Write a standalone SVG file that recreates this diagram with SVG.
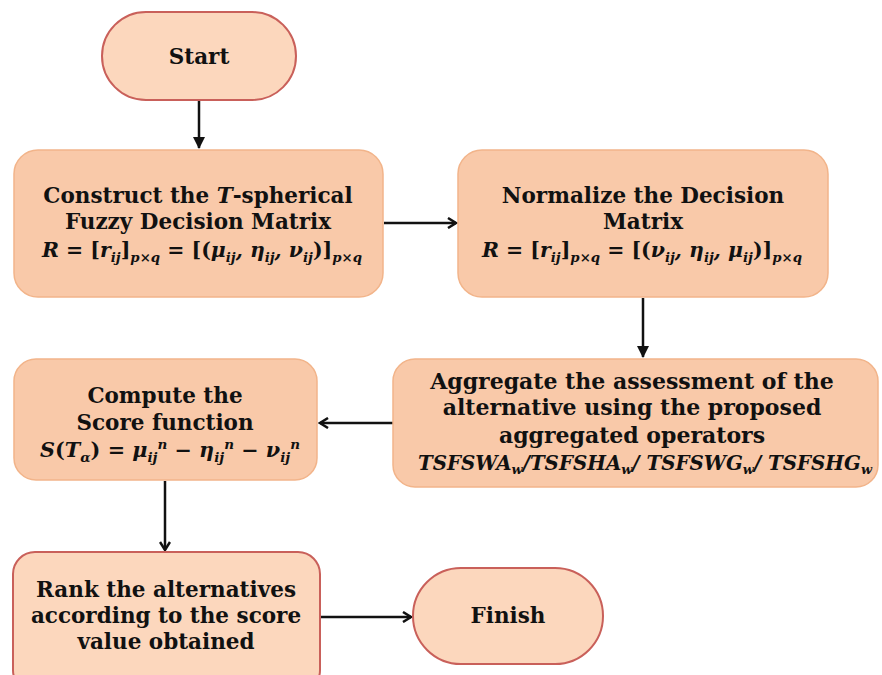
<svg xmlns="http://www.w3.org/2000/svg" width="882" height="675" viewBox="0 0 882 675">
<defs>
<style>
.box{fill:#F9C9A9;stroke:#F2B48A;stroke-width:1.5}
.term{fill:#FCD7BD;stroke:#C9605A;stroke-width:2}
.t{font-family:"DejaVu Serif",serif;font-weight:bold;font-size:21.5px;fill:#111;text-anchor:middle}
.m{font-family:"DejaVu Serif",serif;font-weight:bold;font-style:italic;font-size:20px;fill:#111;text-anchor:middle}
.up{font-style:normal}
.s{font-size:13px}
.c{stroke:#111;stroke-width:2.5;fill:none}
</style>
<marker id="chev" viewBox="0 0 12 12" refX="10" refY="6" markerWidth="12" markerHeight="12" markerUnits="userSpaceOnUse" orient="auto">
<path d="M2,1 L10,6 L2,11" fill="none" stroke="#111" stroke-width="2.5"/>
</marker>
<marker id="tri" viewBox="0 0 12 12" refX="11" refY="6" markerWidth="12" markerHeight="12" markerUnits="userSpaceOnUse" orient="auto">
<path d="M0,0 L12,6 L0,12 Z" fill="#111"/>
</marker>
</defs>
<rect width="882" height="675" fill="#fff"/>
<g id="connectors">
<line class="c" x1="199" y1="100" x2="199" y2="148" marker-end="url(#tri)"/>
<line class="c" x1="384" y1="223" x2="456" y2="223" marker-end="url(#chev)"/>
<line class="c" x1="643" y1="298" x2="643" y2="357" marker-end="url(#tri)"/>
<line class="c" x1="393" y1="423" x2="320" y2="423" marker-end="url(#chev)"/>
<line class="c" x1="165" y1="481" x2="165" y2="550" marker-end="url(#chev)"/>
<line class="c" x1="321" y1="617" x2="411" y2="617" marker-end="url(#chev)"/>
</g>
<g id="start">
<rect class="term" x="102" y="12" width="194" height="88" rx="44"/>
<text class="t" x="199" y="64">Start</text>
</g>
<g id="construct">
<rect class="box" x="14" y="150" width="369" height="147" rx="24"/>
<text class="t" x="198" y="203">Construct the  <tspan font-style="italic">T</tspan>-spherical</text>
<text class="t" x="198" y="229">Fuzzy Decision Matrix</text>
<text class="m" x="202" y="257" textLength="320" lengthAdjust="spacingAndGlyphs">R<tspan class="up"> =  [</tspan>r<tspan class="s" dy="5">ij</tspan><tspan class="up" dy="-5">]</tspan><tspan class="s" dy="5">p×q</tspan><tspan class="up" dy="-5"> = [(</tspan>μ<tspan class="s" dy="5">ij</tspan><tspan dy="-5">, η</tspan><tspan class="s" dy="5">ij</tspan><tspan dy="-5">, ν</tspan><tspan class="s" dy="5">ij</tspan><tspan class="up" dy="-5">)]</tspan><tspan class="s" dy="5">p×q</tspan></text>
</g>
<g id="normalize">
<rect class="box" x="458" y="150" width="370" height="147" rx="24"/>
<text class="t" x="643" y="203">Normalize the Decision</text>
<text class="t" x="643" y="229">Matrix</text>
<text class="m" x="642" y="257" textLength="320" lengthAdjust="spacingAndGlyphs">R<tspan class="up"> =  [</tspan>r<tspan class="s" dy="5">ij</tspan><tspan class="up" dy="-5">]</tspan><tspan class="s" dy="5">p×q</tspan><tspan class="up" dy="-5"> = [(</tspan>ν<tspan class="s" dy="5">ij</tspan><tspan dy="-5">, η</tspan><tspan class="s" dy="5">ij</tspan><tspan dy="-5">, μ</tspan><tspan class="s" dy="5">ij</tspan><tspan class="up" dy="-5">)]</tspan><tspan class="s" dy="5">p×q</tspan></text>
</g>
<g id="aggregate">
<rect class="box" x="393" y="359" width="485" height="128" rx="22"/>
<text class="t" x="632" y="389" style="font-size:22px">Aggregate the assessment of the</text>
<text class="t" x="632" y="415" style="font-size:22px">alternative using the proposed</text>
<text class="t" x="632" y="443" style="font-size:22px">aggregated operators</text>
<text class="m" x="645" y="470" textLength="454" lengthAdjust="spacingAndGlyphs">TSFSWA<tspan class="s" dy="4">w</tspan><tspan dy="-4">/TSFSHA</tspan><tspan class="s" dy="4">w</tspan><tspan dy="-4">/ TSFSWG</tspan><tspan class="s" dy="4">w</tspan><tspan dy="-4">/ TSFSHG</tspan><tspan class="s" dy="4">w</tspan></text>
</g>
<g id="compute">
<rect class="box" x="14" y="359" width="303" height="121" rx="22"/>
<text class="t" x="165" y="403">Compute the</text>
<text class="t" x="165" y="430">Score function</text>
<text class="m" x="170" y="457" textLength="260" lengthAdjust="spacingAndGlyphs">S<tspan class="up">(</tspan>T<tspan class="s" dy="5">α</tspan><tspan class="up" dy="-5">) = </tspan>μ<tspan class="s" dy="5">ij</tspan><tspan class="s" dy="-13">n</tspan><tspan class="up" dy="8"> − </tspan>η<tspan class="s" dy="5">ij</tspan><tspan class="s" dy="-13">n</tspan><tspan class="up" dy="8"> − </tspan>ν<tspan class="s" dy="5">ij</tspan><tspan class="s" dy="-13">n</tspan></text>
</g>
<g id="rank">
<rect class="term" x="13" y="552" width="307" height="140" rx="22"/>
<text class="t" x="166" y="597">Rank the alternatives</text>
<text class="t" x="166" y="623">according to the score</text>
<text class="t" x="166" y="649">value obtained</text>
</g>
<g id="finish">
<rect class="term" x="413" y="568" width="190" height="96" rx="48"/>
<text class="t" x="508" y="623">Finish</text>
</g>
</svg>
